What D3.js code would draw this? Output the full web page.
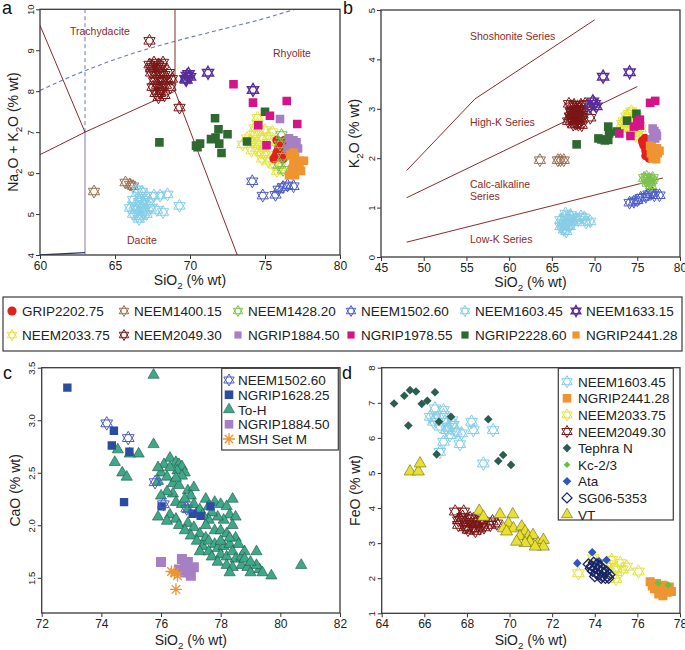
<!DOCTYPE html>
<html><head><meta charset="utf-8">
<script src="https://cdn.jsdelivr.net/npm/d3@7"></script>
<style>body{margin:0;background:#fff} text{font-family:"Liberation Sans",Arial,sans-serif}</style>
</head><body><script>
// ---- panel a : TAS (SiO2 vs Na2O+K2O)
const tasGRIP2202 = [[75.8,6.8],[76.0,6.75],[76.2,6.7],[75.9,6.6],[76.1,6.55],[76.3,6.5],[75.7,6.4],[76.0,6.42],[76.2,6.35],[75.6,6.35],[76.4,6.6],[76.3,6.8],[75.8,6.5]];
const tasNEEM1400 = [[63.6,5.55],[65.7,5.77],[66.0,5.72],[66.2,5.68]];
const tasNEEM1428 = [[76.1,6.93],[76.2,6.4],[76.2,6.08],[75.9,6.2],[76.0,6.7]];
const tasNEEM1502 = [[74.15,5.8],[74.85,5.45],[75.7,5.47],[76.2,5.66],[76.5,5.7],[76.9,5.68],[75.9,5.6]];
const tasNEEM1603 = [[66.5,5.6],[66.8,5.55],[67.1,5.45],[67.6,5.45],[68.0,5.45],[68.5,5.48],[66.2,5.35],[66.6,5.3],[66.9,5.25],[67.3,5.3],[66.0,5.15],[66.4,5.1],[66.7,5.15],[67.0,5.1],[67.4,5.15],[67.8,5.1],[68.2,5.05],[66.2,5.0],[66.5,4.95],[66.8,4.95],[67.1,5.0],[66.6,4.88],[69.3,5.2],[66.3,5.2],[67.0,5.35],[66.9,5.05],[66.7,5.4]];
const tasNEEM1633 = [[69.7,8.3],[69.8,8.38],[69.9,8.42],[69.75,8.28],[70.0,8.35],[71.2,8.45],[74.2,8.03]];
const tasNEEM2033 = [[74.5,7.2],[74.6,7.0],[74.3,6.95],[74.8,6.85],[75.0,7.05],[75.2,6.9],[74.0,6.8],[74.2,6.75],[73.8,6.85],[74.6,6.7],[74.9,6.65],[75.3,6.75],[74.4,6.6],[74.7,6.5],[75.0,6.45],[75.4,6.6],[74.8,6.35],[75.2,6.3],[75.6,6.2],[75.8,6.05],[76.0,6.15],[74.5,7.35],[75.5,7.0],[74.1,6.55],[73.5,6.7],[74.3,7.1]];
const tasNEEM2049 = [[67.3,8.65],[67.5,8.6],[67.6,8.7],[67.8,8.55],[67.9,8.65],[68.1,8.6],[67.4,8.45],[67.7,8.4],[68.0,8.45],[68.3,8.4],[67.6,8.25],[67.9,8.3],[68.2,8.25],[68.5,8.3],[68.8,8.3],[67.5,8.1],[67.8,8.15],[68.1,8.1],[68.4,8.15],[68.7,8.1],[67.7,7.95],[68.0,7.95],[68.3,7.9],[67.9,7.85],[68.0,8.0],[67.4,8.55],[68.6,8.45],[67.3,9.23],[69.3,7.6],[68.2,8.7]];
const tasNGRIP1884 = [[76.0,7.32],[76.6,6.85],[76.9,6.8],[76.7,6.7],[77.0,6.65],[76.8,6.55],[77.2,6.6],[76.5,6.6],[77.1,6.75]];
const tasNGRIP1978 = [[72.9,8.17],[74.2,7.72],[76.45,7.76],[75.33,7.4],[74.55,7.17],[77.15,7.2],[75.1,6.68]];
const tasNGRIP2228 = [[67.96,6.75],[71.67,7.34],[71.9,7.07],[71.4,6.83],[71.95,6.72],[72.1,6.49],[72.5,6.95],[70.4,6.67],[70.67,6.72],[73.8,6.77],[75.0,7.5],[71.7,6.87],[70.5,6.63]];
const tasNGRIP2441 = [[76.7,6.45],[77.0,6.4],[76.9,6.25],[77.3,6.3],[77.6,6.3],[77.1,6.15],[76.8,6.1],[77.4,6.05],[76.6,5.95],[77.0,5.95],[77.3,6.2],[76.9,6.5]];

// ---- panel b : SiO2 vs K2O
const kGRIP2202 = [[75.6,2.35],[75.8,2.25],[76.0,2.15],[75.9,2.4],[76.2,2.05],[76.4,2.0],[75.7,2.3],[76.1,2.3],[76.3,2.2],[76.0,2.05]];
const kNEEM1400 = [[63.6,1.96],[65.7,1.96],[66.0,1.96],[66.4,1.96]];
const kNEEM1428 = [[75.8,1.6],[76.1,1.62],[76.4,1.58],[76.7,1.55],[76.2,1.5],[76.5,1.52],[76.8,1.6],[76.0,1.55],[76.6,1.45]];
const kNEEM1502 = [[74.1,1.1],[74.6,1.12],[75.0,1.15],[75.4,1.2],[76.0,1.22],[76.3,1.27],[76.7,1.3],[77.0,1.25],[77.6,1.25]];
const kNEEM1603 = [[66.0,0.75],[66.3,0.7],[66.5,0.8],[66.8,0.78],[67.0,0.72],[67.3,0.8],[66.2,0.62],[66.5,0.6],[66.8,0.65],[67.1,0.62],[66.4,0.55],[66.7,0.52],[67.5,0.7],[67.8,0.78],[68.1,0.75],[68.4,0.82],[68.8,0.8],[69.5,0.72],[69.0,0.7],[66.0,0.62],[67.2,0.85],[66.6,0.88]];
const kNEEM1633 = [[69.5,3.05],[69.8,3.15],[70.0,3.1],[70.2,3.05],[71.0,3.65],[74.1,3.74]];
const kNEEM2033 = [[73.4,2.75],[73.7,2.85],[74.0,2.9],[74.3,2.95],[74.6,2.9],[74.9,2.85],[73.6,2.7],[74.0,2.72],[74.4,2.75],[74.8,2.7],[75.2,2.65],[73.8,2.6],[74.2,2.6],[74.6,2.58],[75.0,2.55],[75.4,2.6],[74.4,2.5],[74.8,2.45],[73.2,2.7],[75.1,2.78]];
const kNEEM2049 = [[67.0,3.1],[67.3,3.05],[67.6,3.08],[68.0,3.05],[68.4,3.08],[68.9,3.1],[67.2,2.95],[67.5,2.95],[67.8,2.98],[68.1,2.95],[68.5,2.97],[67.1,2.85],[67.4,2.88],[67.7,2.85],[68.0,2.87],[68.3,2.85],[68.6,2.88],[67.3,2.78],[67.6,2.76],[67.9,2.78],[68.2,2.75],[68.5,2.78],[67.5,2.68],[67.8,2.7],[68.1,2.68],[68.5,2.67],[69.5,2.82],[66.9,2.75],[67.7,2.92],[68.2,3.0]];
const kNGRIP1884 = [[76.8,2.6],[77.0,2.55],[77.2,2.5],[76.9,2.45],[77.1,2.4],[76.7,2.38],[77.3,2.45]];
const kNGRIP1978 = [[76.5,3.12],[77.1,3.16],[72.9,2.5],[74.2,2.45],[74.6,2.64],[75.0,2.73],[75.3,2.78],[75.3,2.66]];
const kNGRIP2228 = [[67.9,2.28],[70.45,2.4],[70.8,2.38],[71.2,2.36],[71.6,2.64],[71.7,2.5],[71.6,2.37],[72.6,2.54],[73.8,2.76],[74.9,2.9]];
const kNGRIP2441 = [[76.5,2.25],[76.9,2.2],[77.3,2.2],[76.6,2.1],[77.0,2.05],[77.4,2.1],[77.6,2.15],[76.8,2.0],[77.2,1.98]];

// ---- panel c : SiO2 vs CaO
const caNEEM1502 = [[74.18,2.97],[74.9,2.83],[75.8,2.41],[76.08,2.2],[76.86,2.16]];
const caNGRIP1628 = [[72.86,3.31],[74.42,2.9],[74.35,2.76],[74.94,2.7],[74.76,2.22],[76.02,2.18],[77.06,2.11],[77.33,2.09],[77.66,2.18]];
const caToH = [[75.75,3.43],[75.75,2.77],[74.55,2.72],[74.45,2.6],[74.7,2.5],[74.85,2.46],[75.25,2.68],[74.95,2.68],
 [76.3,2.64],[76.5,2.6],[76.6,2.58],[76.7,2.56],[76.55,2.52],[76.8,2.5],[76.7,2.47],[76.1,2.58],[76.0,2.5],[75.9,2.42],[76.2,2.46],[76.4,2.4],[76.6,2.38],[76.9,2.33],[77.1,2.36],[77.0,2.28],[76.4,2.3],[76.2,2.32],[76.0,2.28],[76.5,2.22],[76.7,2.2],[76.9,2.15],[77.2,2.12],[76.3,2.1],[76.5,2.06],[75.9,2.08],[76.2,2.04],[76.6,2.0],[76.9,2.02],[77.1,1.98],[76.8,1.95],[77.3,1.92],[77.0,1.9],[77.2,1.85],[77.5,1.88],[77.4,1.8],[77.6,1.85],[77.8,1.82],[77.3,1.75],[77.6,1.75],[77.9,1.78],[78.1,1.8],[78.3,1.82],[77.7,1.7],[78.0,1.72],[78.2,1.7],[78.4,1.75],[77.9,1.65],[78.2,1.62],[78.5,1.68],[78.7,1.7],[78.4,1.6],[78.7,1.62],[78.9,1.6],[78.3,1.55],[79.0,1.55],[79.3,1.58],[79.2,1.62],[79.4,1.55],[79.7,1.52],[80.7,1.62],[79.2,1.75],[78.8,1.75],[77.5,2.25],[77.8,2.22],[78.0,2.2],[78.4,2.25],[78.2,2.18],[78.3,2.1],[78.5,2.08],[78.1,2.05],[78.4,2.0],[77.9,2.08],[77.7,2.12],[77.6,2.05],[77.5,2.0],[77.8,1.95],[78.0,1.95],[78.2,1.92],[78.5,1.88],[78.6,1.82],[78.3,1.88],[77.6,2.18],[77.1,2.2],[77.3,2.15],[76.8,2.25],[75.9,2.55],[76.3,2.55],[76.5,2.45],[77.4,2.1],[78.0,1.85],[78.8,1.68],[79.0,1.65]];
const caNGRIP1884 = [[76.0,1.65],[76.7,1.68],[76.9,1.65],[77.1,1.6],[76.8,1.55],[77.0,1.52],[76.6,1.58],[76.8,1.62]];
const caMSH = [[76.35,1.56],[76.45,1.55],[76.55,1.52],[76.5,1.39]];

// ---- panel d : SiO2 vs FeO
const feNEEM1603 = [[66.27,6.6],[66.5,6.84],[66.9,6.79],[66.42,6.46],[66.73,6.32],[67.05,6.22],[67.36,6.37],[67.2,6.08],[67.5,6.18],[67.75,6.13],[68.22,6.46],[68.3,6.22],[67.67,5.82],[66.9,5.89],[66.73,5.6],[68.77,5.27],[69.23,6.22],[66.5,6.56],[66.97,6.46],[67.13,6.32],[67.3,6.5],[66.9,6.65]];
const feNGRIP2441 = [[76.6,1.9],[76.9,1.85],[77.2,1.8],[77.5,1.75],[76.8,1.7],[77.1,1.65],[77.4,1.6],[77.2,1.5],[77.6,1.62],[76.7,1.78],[77.0,1.55],[77.3,1.7]];
const feNEEM2033 = [[73.23,2.14],[73.93,2.57],[74.17,2.43],[74.55,2.24],[74.8,2.52],[75.0,2.28],[75.2,2.43],[75.5,2.33],[76.05,2.19],[74.9,2.1],[75.3,2.25],[74.6,2.4],[75.0,1.98]];
const feNEEM2049 = [[67.45,3.9],[67.85,3.9],[67.7,3.66],[68.15,3.71],[68.45,3.61],[68.75,3.56],[69.1,3.52],[69.4,3.56],[68.0,3.47],[68.3,3.42],[68.6,3.42],[67.6,3.52],[67.9,3.6],[68.2,3.55],[68.5,3.5],[67.8,3.75],[68.3,3.68],[68.05,3.38],[68.8,3.45],[67.6,3.65],[68.4,3.35],[67.9,3.45],[68.7,3.65],[69.2,3.62]];
const feTephraN = [[64.58,6.98],[65.06,7.2],[65.33,7.36],[65.61,7.32],[65.25,6.35],[65.88,6.97],[66.14,7.06],[66.5,7.3],[66.69,6.46],[66.58,5.53],[67.25,6.6],[69.0,6.53],[69.7,5.51],[69.47,5.34],[70.07,5.23]];
const feKc23 = [[76.98,1.86],[77.45,1.81]];
const feAta = [[73.18,2.43],[73.88,2.74],[74.55,2.52],[74.2,2.48]];
const feSG06 = [[73.7,2.4],[73.85,2.35],[74.0,2.3],[74.15,2.25],[74.3,2.2],[74.45,2.15],[74.6,2.05],[73.9,2.2],[74.05,2.15],[74.2,2.1],[74.35,2.05],[74.5,2.0],[73.95,2.45],[74.1,2.4],[74.25,2.35],[74.4,2.25],[74.55,2.2],[74.7,2.1],[73.8,2.28],[74.0,2.05],[74.3,2.0],[74.65,2.0]];
const feVT = [[65.33,5.04],[65.72,5.04],[65.8,5.27],[68.58,3.92],[69.55,3.82],[70.15,3.82],[69.95,3.56],[69.71,3.42],[70.18,3.42],[70.57,3.47],[70.73,3.33],[70.49,3.19],[70.88,3.19],[71.1,3.23],[70.95,3.04],[71.34,2.99],[71.59,3.09],[71.59,2.9],[71.2,2.9],[70.73,3.0],[70.33,3.04],[68.77,3.75],[69.86,3.33]];

// boundary lines
const tasRed = [[[60,9.61],[63,7.0]], [[60,6.45],[63,7.0],[69,8.0]], [[69,8.0],[69,10]], [[69,8.0],[73.15,4]]];
const tasAlkaline = [[60,8.02],[63,8.5],[66,8.9],[69,9.22],[72,9.5],[75,9.78],[77,10.0],[78,10.1]];
const kSeries = [[[48,1.75],[56,3.2],[70,4.8]], [[48,1.2],[75,3.45]], [[48,0.3],[78,1.6]]];

const legendRow1 = ['GRIP2202.75','NEEM1400.15','NEEM1428.20','NEEM1502.60','NEEM1603.45','NEEM1633.15'];
const legendRow2 = ['NEEM2033.75','NEEM2049.30','NGRIP1884.50','NGRIP1978.55','NGRIP2228.60','NGRIP2441.28'];
const legendC = ['NEEM1502.60','NGRIP1628.25','To-H','NGRIP1884.50','MSH Set M'];
const legendD = ['NEEM1603.45','NGRIP2441.28','NEEM2033.75','NEEM2049.30','Tephra N','Kc-2/3','Ata','SG06-5353','VT'];

const styles = {
  'GRIP2202.75': {sym:'circle', fill:'#e3201b'},
  'NEEM1400.15': {sym:'star', stroke:'#9c6e50'},
  'NEEM1428.20': {sym:'star', stroke:'#7cc24c'},
  'NEEM1502.60': {sym:'star', stroke:'#4a5bc4'},
  'NEEM1603.45': {sym:'star', stroke:'#86cde6'},
  'NEEM1633.15': {sym:'star', stroke:'#5a2c98', sw:1.4},
  'NEEM2033.75': {sym:'star', stroke:'#e4e43c'},
  'NEEM2049.30': {sym:'star', stroke:'#7a1616'},
  'NGRIP1884.50': {sym:'square', fill:'#a67fc4'},
  'NGRIP1978.55': {sym:'square', fill:'#d5148a'},
  'NGRIP2228.60': {sym:'square', fill:'#2e6a30'},
  'NGRIP2441.28': {sym:'square', fill:'#ee9430'},
  'NGRIP1628.25': {sym:'square', fill:'#2a4da0'},
  'To-H': {sym:'triangle', fill:'#3fa888', stroke:'#1f5446', sw:0.6},
  'MSH Set M': {sym:'asterisk', stroke:'#ee9430', sw:1.3},
  'Tephra N': {sym:'diamond', fill:'#2a5e52'},
  'Kc-2/3': {sym:'diamond', fill:'#66c040'},
  'Ata': {sym:'diamond', fill:'#2f55c0'},
  'SG06-5353': {sym:'diamond', stroke:'#1a2566', sw:1.3},
  'VT': {sym:'triangle', fill:'#e8e030', stroke:'#6a6420', sw:0.6}
};

const symPath = {
  star: r => { let s=''; for (const o of [-90,90]) { for (let i=0;i<3;i++){ const a=(o+120*i)*Math.PI/180; s+=(i?'L':'M')+(r*Math.cos(a)).toFixed(2)+','+(r*Math.sin(a)).toFixed(2);} s+='Z'; } return s; },
  circle: r => `M${r},0A${r},${r} 0 1,1 ${-r},0A${r},${r} 0 1,1 ${r},0Z`,
  square: h => `M${-h},${-h}H${h}V${h}H${-h}Z`,
  diamond: h => `M0,${-h}L${h},0L0,${h}L${-h},0Z`,
  triangle: h => { const t=h*Math.sqrt(3); return `M0,${(-t*2/3).toFixed(2)}L${h},${(t/3).toFixed(2)}L${-h},${(t/3).toFixed(2)}Z`; },
  asterisk: r => { let s=''; for (let i=0;i<4;i++){ const a=i*Math.PI/4, c=r*Math.cos(a), n=r*Math.sin(a); s+=`M${c.toFixed(2)},${n.toFixed(2)}L${(-c).toFixed(2)},${(-n).toFixed(2)}`; } return s; }
};

const W = 685, H = 650;
const FONT = '"Liberation Sans", Arial, sans-serif';
const svg = d3.select('body').append('svg').attr('width', W).attr('height', H);
let clipId = 0;

function makePanel(p) {
  const x = d3.scaleLinear().domain(p.xd).range([p.l, p.r]);
  const y = d3.scaleLinear().domain(p.yd).range([p.b, p.t]);
  const g = svg.append('g');
  const xa = g.append('g').attr('transform', `translate(0,${p.b})`)
    .call(d3.axisBottom(x).tickValues(p.xt).tickSize(4).tickPadding(2).tickFormat(d3.format('d')));
  xa.attr('font-family', FONT).attr('font-size', 12);
  xa.select('.domain').remove();
  xa.selectAll('line').attr('stroke', '#333');
  xa.selectAll('text').attr('fill', '#222');
  const ya = g.append('g').attr('transform', `translate(${p.l},0)`)
    .call(d3.axisLeft(y).tickValues(p.yt).tickSize(4).tickFormat(d3.format(p.yf || 'd')));
  ya.attr('font-family', FONT).attr('font-size', 9.5);
  ya.select('.domain').remove();
  ya.selectAll('line').attr('stroke', '#333');
  ya.selectAll('text').attr('transform', 'rotate(-90)').attr('x', 0).attr('y', -6.5).attr('dy', 0)
    .attr('text-anchor', 'middle').attr('fill', '#222');

  const id = 'clip' + (clipId++);
  g.append('clipPath').attr('id', id).append('rect')
    .attr('x', p.l).attr('y', p.t).attr('width', p.r - p.l).attr('height', p.b - p.t);
  const inner = g.append('g').attr('clip-path', `url(#${id})`);

  // axis titles
  const xt = g.append('text').attr('x', (p.l + p.r) / 2).attr('y', p.b + p.xto).attr('text-anchor', 'middle')
    .attr('font-size', 14).attr('fill', '#222');
  subText(xt, p.xTitle);
  const yt = g.append('text').attr('transform', `translate(${p.l - 22},${(p.t + p.b) / 2}) rotate(-90)`)
    .attr('text-anchor', 'middle').attr('font-size', 14).attr('fill', '#222');
  subText(yt, p.yTitle);

  g.append('text').attr('x', p.lx).attr('y', p.ly).attr('font-size', 18).attr('fill', '#111').text(p.letter);
  return {x, y, g, inner, p};
}

// parts: array of [text, isSub]
function subText(sel, parts) {
  let prevSub = false;
  parts.forEach(([t, sub]) => {
    const ts = sel.append('tspan').text(t);
    if (sub) ts.attr('font-size', '70%').attr('dy', 4);
    else if (prevSub) ts.attr('dy', -4);
    prevSub = sub;
  });
}

function frame(P) {
  const p = P.p;
  P.g.append('rect').attr('x', p.l).attr('y', p.t).attr('width', p.r - p.l).attr('height', p.b - p.t)
    .attr('fill', 'none').attr('stroke', '#3a3a3a').attr('stroke-width', 1.3);
}

function plotSeries(P, pts, name, size) {
  const st = styles[name];
  P.inner.append('g').selectAll('path').data(pts).join('path')
    .attr('transform', d => `translate(${P.x(d[0])},${P.y(d[1])})`)
    .attr('d', symPath[st.sym](size))
    .attr('fill', st.fill || 'none')
    .attr('stroke', st.stroke || 'none')
    .attr('stroke-width', st.sw || 1);
}

function marker(g, name, cx, cy, size) {
  const st = styles[name];
  g.append('path').attr('transform', `translate(${cx},${cy})`).attr('d', symPath[st.sym](size))
    .attr('fill', st.fill || 'none').attr('stroke', st.stroke || 'none').attr('stroke-width', st.sw || 1);
}

const lineGen = (P) => d3.line().x(d => P.x(d[0])).y(d => P.y(d[1]));
const siTitle = [['SiO', false], ['2', true], [' (% wt)', false]];

// ---------- panel a
const A = makePanel({xd:[60,80], yd:[4,10], l:40, r:340, t:9.3, b:255, xt:[60,65,70,75,80], yt:[4,5,6,7,8,9,10],
  xTitle: siTitle, yTitle: [['Na', false], ['2', true], ['O + K', false], ['2', true], ['O (% wt)', false]],
  letter:'a', lx:2, ly:14, xto:30});
A.inner.append('path').attr('d', lineGen(A)([[63,7],[63,10]])).attr('stroke', '#6d7ab8').attr('stroke-dasharray', '4,3').attr('fill', 'none');
A.inner.append('path').attr('d', lineGen(A).curve(d3.curveMonotoneX)(tasAlkaline)).attr('stroke', '#6d7ab8').attr('stroke-dasharray', '4,3').attr('fill', 'none').attr('stroke-width', 1.1);
A.inner.append('path').attr('d', lineGen(A)([[63,4],[63,7]])).attr('stroke', '#8a78a8').attr('fill', 'none');
A.inner.append('path').attr('d', lineGen(A)([[60,4.0],[63,4.06]])).attr('stroke', '#28307a').attr('fill', 'none').attr('stroke-width', 1.3);
tasRed.forEach(l => A.inner.append('path').attr('d', lineGen(A)(l)).attr('stroke', '#8b2b2b').attr('fill', 'none'));
[['Trachydacite', 70, 35], ['Rhyolite', 273, 57], ['Dacite', 127, 244]].forEach(([t, x, y]) =>
  A.g.append('text').attr('x', x).attr('y', y).attr('font-size', 10.5).attr('fill', '#8b2a2a').text(t));
plotSeries(A, tasNEEM1400, 'NEEM1400.15', 6.5);
plotSeries(A, tasNEEM1603, 'NEEM1603.45', 6.5);
plotSeries(A, tasNEEM2049, 'NEEM2049.30', 6.5);
plotSeries(A, tasNEEM1633, 'NEEM1633.15', 6.5);
plotSeries(A, tasNEEM1502, 'NEEM1502.60', 6.5);
plotSeries(A, tasNEEM2033, 'NEEM2033.75', 6.5);
plotSeries(A, tasGRIP2202, 'GRIP2202.75', 4.6);
plotSeries(A, tasNEEM1428, 'NEEM1428.20', 6.5);
plotSeries(A, tasNGRIP1884, 'NGRIP1884.50', 4.3);
plotSeries(A, tasNGRIP2441, 'NGRIP2441.28', 4.3);
plotSeries(A, tasNGRIP2228, 'NGRIP2228.60', 4.3);
plotSeries(A, tasNGRIP1978, 'NGRIP1978.55', 4.3);
frame(A);

// ---------- panel b
const B = makePanel({xd:[45,80], yd:[0,5], l:381, r:680, t:10, b:257, xt:[45,50,55,60,65,70,75,80], yt:[0,1,2,3,4,5],
  xTitle: siTitle, yTitle: [['K', false], ['2', true], ['O (% wt)', false]], letter:'b', lx:343, ly:14, xto:30});
kSeries.forEach(l => B.inner.append('path').attr('d', lineGen(B)(l)).attr('stroke', '#8b2b2b').attr('fill', 'none'));
[['Shoshonite Series', 470, 39.5], ['High-K Series', 470, 126], ['Calc-alkaline', 470, 188], ['Series', 470, 200], ['Low-K Series', 470, 243]].forEach(([t, x, y]) =>
  B.g.append('text').attr('x', x).attr('y', y).attr('font-size', 10.5).attr('fill', '#8b2a2a').text(t));
plotSeries(B, kNEEM1400, 'NEEM1400.15', 6.5);
plotSeries(B, kNEEM1603, 'NEEM1603.45', 6.5);
plotSeries(B, kNEEM2049, 'NEEM2049.30', 6.5);
plotSeries(B, kNEEM1633, 'NEEM1633.15', 6.5);
plotSeries(B, kNEEM1502, 'NEEM1502.60', 6.5);
plotSeries(B, kNEEM1428, 'NEEM1428.20', 6.5);
plotSeries(B, kNEEM2033, 'NEEM2033.75', 6.5);
plotSeries(B, kNGRIP2228, 'NGRIP2228.60', 4.3);
plotSeries(B, kGRIP2202, 'GRIP2202.75', 4.6);
plotSeries(B, kNGRIP1884, 'NGRIP1884.50', 4.3);
plotSeries(B, kNGRIP2441, 'NGRIP2441.28', 4.3);
plotSeries(B, kNGRIP1978, 'NGRIP1978.55', 4.3);
frame(B);

// ---------- main legend
const L = svg.append('g');
L.append('rect').attr('x', 3).attr('y', 297).attr('width', 679).attr('height', 54).attr('fill', '#fff').attr('stroke', '#3a3a3a').attr('stroke-width', 1.2);
const legX = [12, 124, 238, 351, 465, 576];
[legendRow1, legendRow2].forEach((row, ri) => {
  const cy = 311 + ri * 24;
  row.forEach((name, i) => {
    const st = styles[name];
    const sz = st.sym === 'star' ? 5.5 : st.sym === 'circle' ? 4.6 : 3.6;
    marker(L, name, legX[i], cy, sz);
    L.append('text').attr('x', legX[i] + 10).attr('y', cy + 5).attr('font-size', 13.5).attr('fill', '#222').text(name);
  });
});

// ---------- panel c
const C = makePanel({xd:[72,82], yd:[1.165,3.5], l:41.7, r:340, t:367.7, b:613, xt:[72,74,76,78,80,82], yt:[1.5,2.0,2.5,3.0,3.5], yf:'.1f',
  xTitle: siTitle, yTitle: [['CaO (% wt)', false]], letter:'c', lx:3, ly:379, xto:31.5});
plotSeries(C, caToH, 'To-H', 5.6);
plotSeries(C, caNGRIP1628, 'NGRIP1628.25', 4.2);
plotSeries(C, caNEEM1502, 'NEEM1502.60', 6.8);
plotSeries(C, caNGRIP1884, 'NGRIP1884.50', 5);
plotSeries(C, caMSH, 'MSH Set M', 6);
frame(C);
const LC = C.g.append('g');
LC.append('rect').attr('x', 221.7).attr('y', 368.3).attr('width', 116.6).attr('height', 81.7).attr('fill', '#fff').attr('stroke', '#3a3a3a').attr('stroke-width', 1.2);
legendC.forEach((name, i) => {
  const cy = 380 + i * 14.75, st = styles[name];
  const sz = {star:6, square:4.3, triangle:5.5, asterisk:6}[st.sym];
  marker(LC, name, 229, cy, sz);
  LC.append('text').attr('x', 238).attr('y', cy + 5).attr('font-size', 13.5).attr('fill', '#222').text(name);
});

// ---------- panel d
const D = makePanel({xd:[64,78], yd:[1,8], l:381.7, r:680, t:367.7, b:613.3, xt:[64,66,68,70,72,74,76,78], yt:[1,2,3,4,5,6,7,8],
  xTitle: siTitle, yTitle: [['FeO (% wt)', false]], letter:'d', lx:342, ly:379, xto:31.5});
plotSeries(D, feNEEM1603, 'NEEM1603.45', 6.8);
plotSeries(D, feTephraN, 'Tephra N', 4.3);
plotSeries(D, feNEEM2049, 'NEEM2049.30', 6.8);
plotSeries(D, feVT, 'VT', 6);
plotSeries(D, feNEEM2033, 'NEEM2033.75', 6.8);
plotSeries(D, feAta, 'Ata', 4.3);
plotSeries(D, feSG06, 'SG06-5353', 5.2);
plotSeries(D, feNGRIP2441, 'NGRIP2441.28', 4.5);
plotSeries(D, feKc23, 'Kc-2/3', 3.6);
frame(D);
const LD = D.g.append('g');
LD.append('rect').attr('x', 558.3).attr('y', 368.3).attr('width', 115).attr('height', 151.7).attr('fill', '#fff').attr('stroke', '#3a3a3a').attr('stroke-width', 1.2);
legendD.forEach((name, i) => {
  const cy = 381.7 + i * 16.6, st = styles[name];
  const sz = name === 'Kc-2/3' ? 3.3 : {star:6, square:4.3, triangle:5.5, diamond:4.3}[st.sym];
  marker(LD, name, 567, cy, name === 'SG06-5353' ? 5 : sz);
  LD.append('text').attr('x', 578).attr('y', cy + 5).attr('font-size', 13.5).attr('fill', '#222').text(name);
});
</script></body></html>
